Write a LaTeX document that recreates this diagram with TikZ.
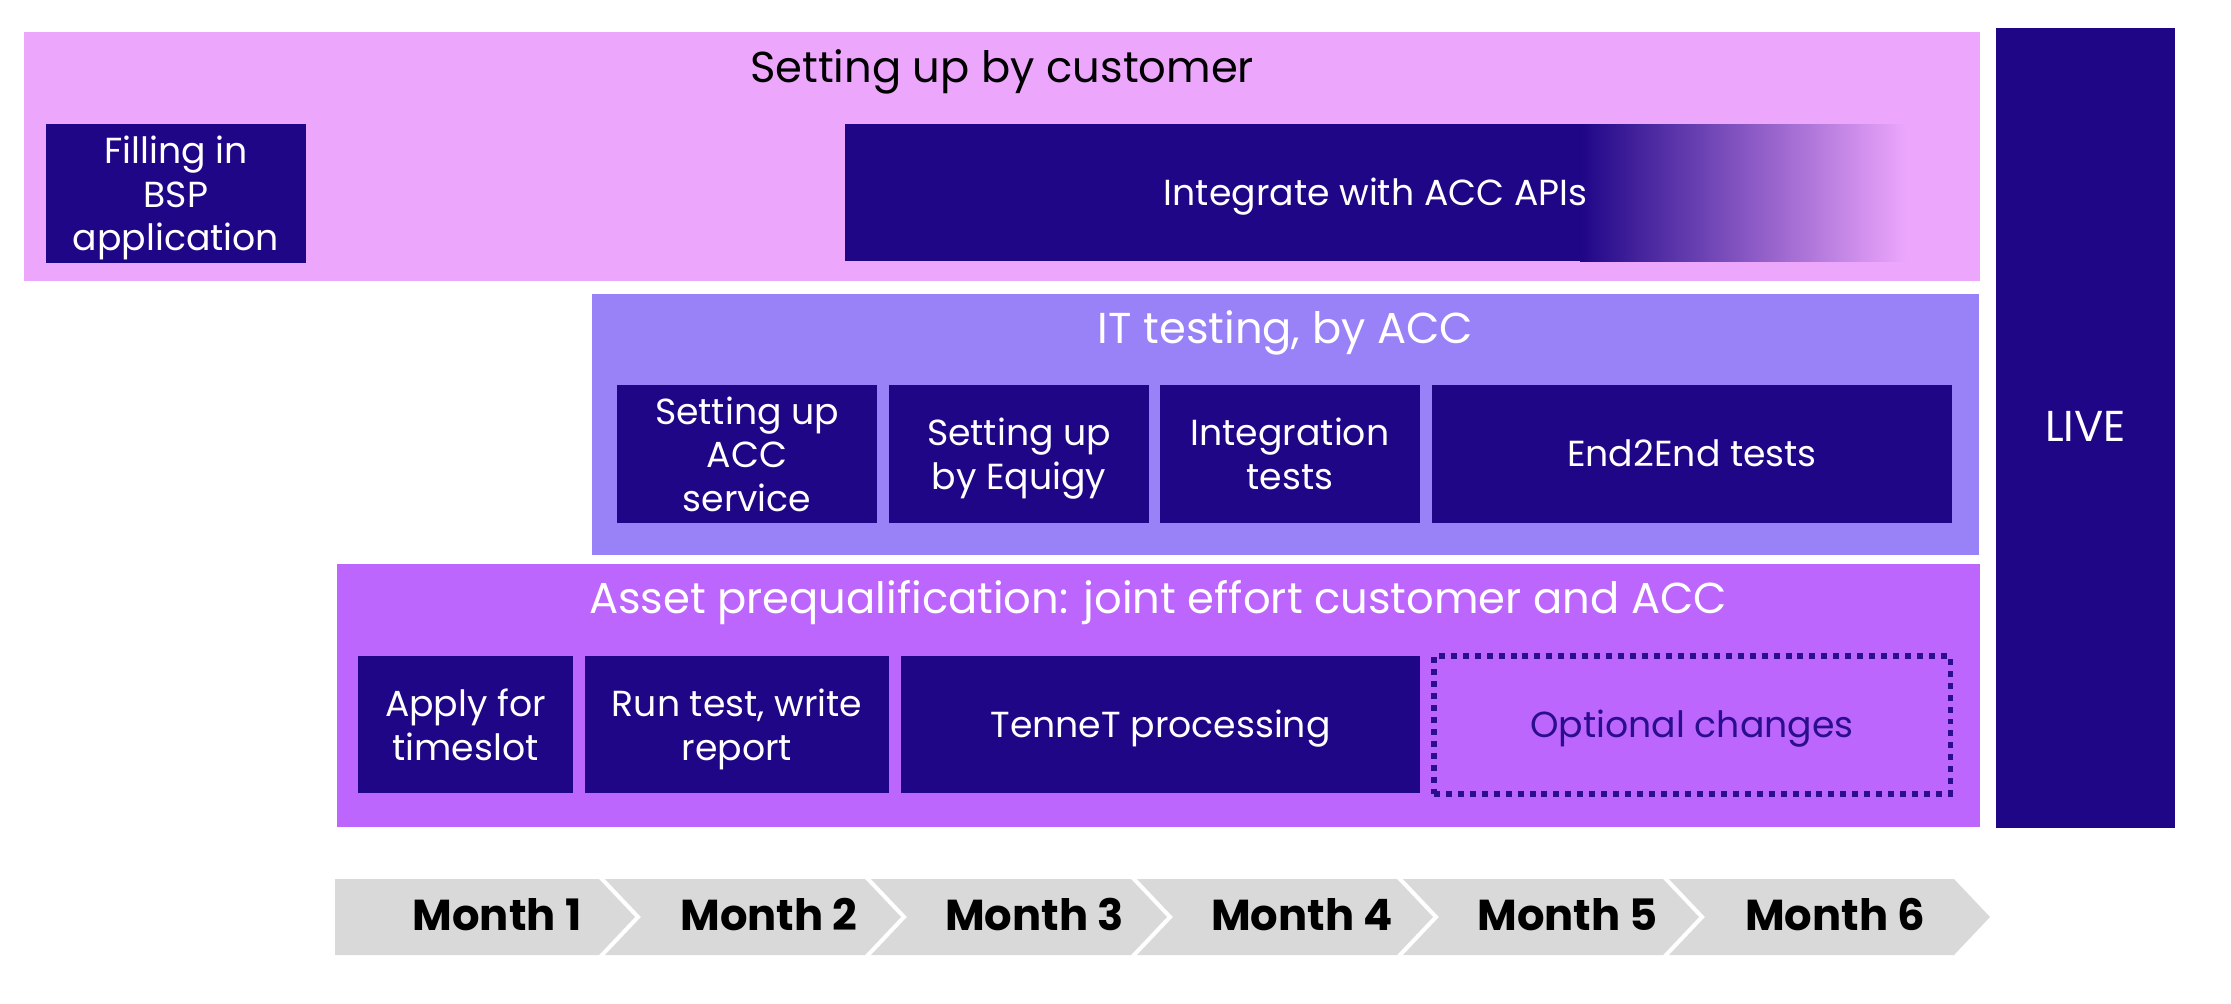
\documentclass[tikz,border=0pt]{standalone}
\usepackage{fontspec}
\setmainfont{Poppins}
\definecolor{pinkbg}{HTML}{ECA6FC}
\definecolor{lavbg}{HTML}{9981F8}
\definecolor{purbg}{HTML}{BC66FE}
\definecolor{navy}{HTML}{1F0687}
\definecolor{chev}{HTML}{D9D9D9}
\definecolor{optc}{HTML}{2B0E8C}
\begin{document}
\begin{tikzpicture}[x=0.01cm,y=-0.01cm,
  panel/.style={rectangle, inner sep=0pt, draw=none},
  task/.style={rectangle, fill=navy, text=white, inner sep=0pt, align=center,
    text depth=0pt, font=\fontsize{10.3}{12.4}\selectfont},
  oneline/.style={text height=7.2pt, text depth=0pt},
  ttl/.style={inner sep=0pt, anchor=base, font=\fontsize{12.3}{14}\selectfont},
  month/.style={inner sep=0pt, anchor=base, font=\bfseries\fontsize{12.3}{14}\selectfont},
  chevron/.style={fill=chev},
  sz/.style 2 args={minimum width=#1cm, minimum height=#2cm}]
\useasboundingbox (0,0) rectangle (2231,1003);

% ---- panel 1: setting up by customer
\node[panel, fill=pinkbg, sz={19.54}{2.49}] (cust) at (1002,156.5) {};
\node[ttl, text=black] (custT) at (1002,82) {Setting up by customer};
\node[task, sz={2.60}{1.39}] (bsp) at (176,193.5) {Filling in\\BSP\\application};
\fill[navy] (845,124) rectangle (1581,261);
\shade[left color=navy, right color=pinkbg] (1580,124) rectangle (1906,261);
\node[inner sep=0pt, text=white, font=\fontsize{10.3}{12.4}\selectfont, oneline,
  sz={10.61}{1.37}] (integ) at (1375.5,192.5) {Integrate with ACC APIs};

% ---- panel 2: IT testing
\node[panel, fill=lavbg, sz={13.87}{2.61}] (it) at (1285.5,424.5) {};
\node[ttl, text=white] (itT) at (1285.5,343) {IT testing, by ACC};
\node[task, sz={2.60}{1.38}] (acc) at (747,454) {Setting up\\ACC\\service};
\node[task, sz={2.60}{1.38}] (equ) at (1019,454) {Setting up\\by Equigy};
\node[task, sz={2.60}{1.38}] (integr) at (1290,454) {Integration\\tests};
\node[task, oneline, sz={5.20}{1.38}] (e2e) at (1692,454) {End2End tests};

% ---- panel 3: asset prequalification
\node[panel, fill=purbg, sz={16.42}{2.63}] (asset) at (1158,695.5) {};
\node[ttl, text=white] (assetT) at (1158,613) {Asset prequalification: joint effort customer and ACC};
\node[task, sz={2.15}{1.37}] (apply) at (465.5,724.5) {Apply for\\timeslot};
\node[task, sz={3.04}{1.37}] (run) at (737,724.5) {Run test, write\\report};
\node[task, oneline, sz={5.19}{1.37}] (tennet) at (1160.5,724.5) {TenneT processing};
\node[rectangle, inner sep=0pt, draw=optc, line width=1.5pt,
  dash pattern=on 1.7pt off 1.7pt, text=optc, oneline,
  font=\fontsize{10.3}{12.4}\selectfont,
  sz={5.16}{1.38}] (opt) at (1692,725) {Optional changes};

% ---- LIVE
\node[rectangle, inner sep=0pt, fill=navy, sz={1.79}{8.00}] (live) at (2085.5,428) {};
\node[ttl, text=white] (liveT) at (2085.5,441) {LIVE};

% ---- month chevrons
\fill[chevron] (335,879) -- (599,879) -- (635,917) -- (599,955) -- (335,955) -- cycle;
\foreach \a/\b in {605/865, 871/1131, 1137/1397, 1403/1663, 1669/1954}{
  \fill[chevron] (\a,879) -- (\b,879) -- (\b+36,917) -- (\b,955) -- (\a,955) -- (\a+36,917) -- cycle;
}
\node[month] (m1) at (497,930) {Month 1};
\node[month] (m2) at (769,930) {Month 2};
\node[month] (m3) at (1034.5,930) {Month 3};
\node[month] (m4) at (1302,930) {Month 4};
\node[month] (m5) at (1567.5,930) {Month 5};
\node[month] (m6) at (1835,930) {Month 6};
\end{tikzpicture}
\end{document}
